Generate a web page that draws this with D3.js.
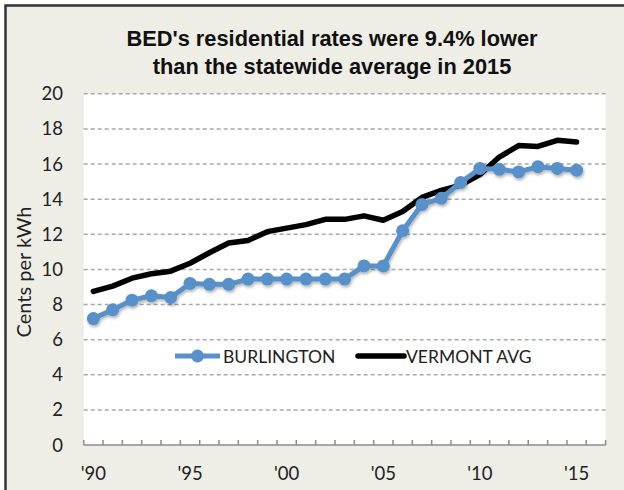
<!DOCTYPE html>
<html>
<head>
<meta charset="utf-8">
<script src="https://cdn.jsdelivr.net/npm/d3@7"></script>
<style>
  body { margin: 0; background: #fff; }
  svg { display: block; }
</style>
</head>
<body>
<svg id="chart" width="624" height="490"></svg>
<script>
// years on the category axis (2016 slot is left empty like the original)
var years = d3.range(1990, 2017);
var yearLabels = ["'90", "'95", "'00", "'05", "'10", "'15"];
var labelYears = [1990, 1995, 2000, 2005, 2010, 2015];

var burlington = [7.2, 7.7, 8.25, 8.5, 8.4, 9.2, 9.15, 9.15, 9.45, 9.45, 9.45, 9.45, 9.45, 9.45,
                  10.2, 10.2, 12.2, 13.7, 14.05, 14.95, 15.75, 15.7, 15.55, 15.85, 15.75, 15.65];
var vermont = [8.75, 9.05, 9.5, 9.75, 9.9, 10.35, 10.95, 11.5, 11.65, 12.15, 12.35, 12.55, 12.85, 12.85,
               13.05, 12.8, 13.3, 14.1, 14.5, 14.8, 15.4, 16.4, 17.05, 17.0, 17.35, 17.25];
var yTicks = d3.range(0, 21, 2);

var blue = "#5891c9";
var svg = d3.select("#chart");

// frame
svg.append("rect")
    .attr("x", 5.5).attr("y", 5.5)
    .attr("width", 700).attr("height", 600)
    .attr("fill", "#eeede6")
    .attr("stroke", "#333").attr("stroke-width", 2.5);

var x = d3.scaleBand().domain(years).range([83.7, 605.6]);
var y = d3.scaleLinear().domain([0, 20]).range([445, 93.8]);

svg.append("rect")
    .attr("x", x.range()[0]).attr("y", y(20))
    .attr("width", x.range()[1] - x.range()[0])
    .attr("height", y(0) - y(20))
    .attr("fill", "#fff");

// title
var title = svg.append("text")
    .attr("text-anchor", "middle")
    .attr("font-family", "'Liberation Sans', Arial, sans-serif")
    .attr("font-weight", "bold")
    .attr("font-size", 21.8)
    .attr("fill", "#111");
title.append("tspan").attr("x", 332).attr("y", 46).text("BED's residential rates were 9.4% lower");
title.append("tspan").attr("x", 332).attr("y", 74).text("than the statewide average in 2015");

// gridlines
svg.append("g").selectAll("line")
    .data(yTicks.filter(function(d) { return d > 0; }))
    .enter().append("line")
        .attr("x1", x.range()[0]).attr("x2", x.range()[1])
        .attr("y1", function(d) { return y(d); })
        .attr("y2", function(d) { return y(d); })
        .attr("stroke", "#a8a8a8")
        .attr("stroke-width", 1.5)
        .attr("stroke-dasharray", "4,3");

// y labels
svg.append("g").selectAll("text")
    .data(yTicks)
    .enter().append("text")
        .attr("x", 63)
        .attr("y", function(d) { return y(d) + 6.5; })
        .attr("text-anchor", "end")
        .attr("font-family", "Lato, sans-serif")
        .attr("font-size", 18.5)
        .attr("fill", "#222")
        .text(function(d) { return d; });

svg.append("text")
    .attr("transform", "translate(31,272) rotate(-90)")
    .attr("text-anchor", "middle")
    .attr("font-family", "Lato, sans-serif")
    .attr("font-size", 20)
    .attr("fill", "#222")
    .text("Cents per kWh");

// x axis with ticks pointing up, at band edges
var xAxis = svg.append("g").attr("stroke", "#8c8c8c").attr("stroke-width", 1.5);
xAxis.append("line")
    .attr("x1", x.range()[0]).attr("x2", x.range()[1])
    .attr("y1", y(0)).attr("y2", y(0));
xAxis.selectAll("line.tick")
    .data(years.concat([2017]))
    .enter().append("line")
        .attr("class", "tick")
        .attr("x1", function(d) { return d == 2017 ? x.range()[1] : x(d); })
        .attr("x2", function(d) { return d == 2017 ? x.range()[1] : x(d); })
        .attr("y1", y(0)).attr("y2", y(0) - 5);

svg.append("g").selectAll("text")
    .data(labelYears)
    .enter().append("text")
        .attr("x", function(d) { return x(d) + x.bandwidth() / 2; })
        .attr("y", 480)
        .attr("text-anchor", "middle")
        .attr("font-family", "Lato, sans-serif")
        .attr("font-size", 18.5)
        .attr("fill", "#222")
        .text(function(d, i) { return yearLabels[i]; });

// shadow for the blue series
var defs = svg.append("defs");
defs.append("filter").attr("id", "shadow")
    .attr("x", "-10%").attr("y", "-10%").attr("width", "120%").attr("height", "130%")
    .append("feDropShadow")
        .attr("dx", 1).attr("dy", 2).attr("stdDeviation", 1.5)
        .attr("flood-color", "#000").attr("flood-opacity", 0.3);

var cx = function(d, i) { return x(years[i]) + x.bandwidth() / 2; };
var line = d3.line().x(cx).y(function(d) { return y(d); });

svg.append("path")
    .datum(vermont)
    .attr("d", line)
    .attr("fill", "none")
    .attr("stroke", "#000")
    .attr("stroke-width", 5.5)
    .attr("stroke-linejoin", "round")
    .attr("stroke-linecap", "round");

var bl = svg.append("g").attr("filter", "url(#shadow)");
bl.append("path")
    .datum(burlington)
    .attr("d", line)
    .attr("fill", "none")
    .attr("stroke", blue)
    .attr("stroke-width", 5)
    .attr("stroke-linejoin", "round");
bl.selectAll("circle")
    .data(burlington)
    .enter().append("circle")
        .attr("cx", cx)
        .attr("cy", function(d) { return y(d); })
        .attr("r", 6.5)
        .attr("fill", blue);

// legend
var lg = svg.append("g");
lg.append("line")
    .attr("x1", 175).attr("x2", 220).attr("y1", 356).attr("y2", 356)
    .attr("stroke", blue).attr("stroke-width", 5);
lg.append("circle").attr("cx", 197.5).attr("cy", 356).attr("r", 6.5).attr("fill", blue);
lg.append("text")
    .attr("x", 223).attr("y", 362.5)
    .attr("font-family", "Lato, sans-serif").attr("font-size", 17.5).attr("fill", "#222")
    .text("BURLINGTON");
lg.append("line")
    .attr("x1", 358).attr("x2", 404).attr("y1", 356).attr("y2", 356)
    .attr("stroke", "#000").attr("stroke-width", 5.5).attr("stroke-linecap", "round");
lg.append("text")
    .attr("x", 406).attr("y", 362.5)
    .attr("font-family", "Lato, sans-serif").attr("font-size", 17.5).attr("fill", "#222")
    .text("VERMONT AVG");
</script>
</body>
</html>
